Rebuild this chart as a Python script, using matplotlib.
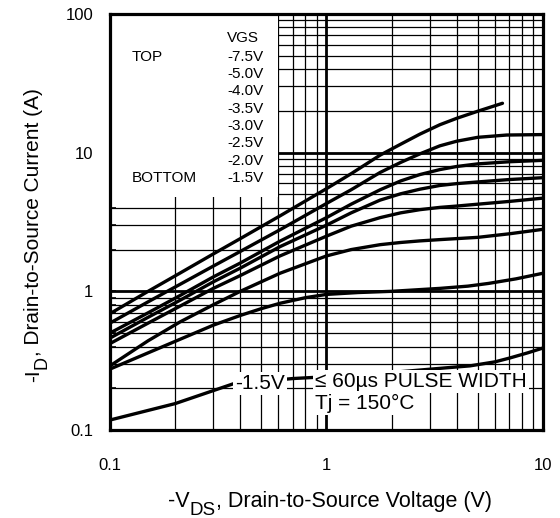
import numpy as np
import matplotlib
matplotlib.use("Agg")
import matplotlib.pyplot as plt
from matplotlib.patches import Rectangle
from matplotlib.ticker import NullFormatter

plt.rcParams["font.family"] = ["Liberation Sans", "DejaVu Sans"]

# ---------------------------------------------------------------------------
# Data (VDS in V, ID in A), one curve per VGS step
# ---------------------------------------------------------------------------
vgs_labels = ["-7.5V", "-5.0V", "-4.0V", "-3.5V", "-3.0V", "-2.5V", "-2.0V", "-1.5V"]

vds_m75 = [0.1, 0.15, 0.21, 0.3, 0.4, 0.61, 1.0, 1.3, 1.77, 2.2, 2.7, 3.34, 4.0, 5.0, 6.5]
id_m75 = [0.69, 1.0, 1.35, 1.86, 2.4, 3.5, 5.5, 7.05, 9.6, 11.5, 13.6, 15.9, 17.7, 19.9, 22.7]

vds_m50 = [0.1, 0.15, 0.21, 0.3, 0.4, 0.61, 1.0, 1.3, 1.77, 2.2, 2.7, 3.34, 4.0, 5.0, 6.8, 10]
id_m50 = [0.59, 0.84, 1.12, 1.52, 1.94, 2.78, 4.3, 5.4, 7.2, 8.5, 9.8, 11.2, 12.1, 12.9, 13.4, 13.5]

vds_m40 = [0.1, 0.15, 0.21, 0.3, 0.4, 0.61, 1.0, 1.3, 1.77, 2.2, 2.7, 3.34, 4.0, 5.0, 7.0, 10]
id_m40 = [0.50, 0.70, 0.93, 1.27, 1.6, 2.3, 3.4, 4.25, 5.4, 6.25, 6.95, 7.55, 7.95, 8.3, 8.6, 8.8]

vds_m35 = [0.1, 0.15, 0.21, 0.3, 0.4, 0.61, 1.0, 1.3, 1.77, 2.2, 2.7, 3.34, 4.0, 5.0, 7.0, 10]
id_m35 = [0.46, 0.65, 0.86, 1.17, 1.47, 2.1, 3.0, 3.68, 4.55, 5.05, 5.45, 5.8, 5.98, 6.15, 6.4, 6.6]

vds_m30 = [0.1, 0.15, 0.21, 0.3, 0.4, 0.61, 1.0, 1.3, 1.77, 2.2, 2.7, 3.34, 4.0, 5.0, 7.0, 10]
id_m30 = [0.42, 0.59, 0.78, 1.05, 1.3, 1.8, 2.5, 2.95, 3.4, 3.68, 3.88, 4.03, 4.12, 4.25, 4.45, 4.7]

vds_m25 = [0.1, 0.15, 0.21, 0.3, 0.4, 0.61, 1.0, 1.3, 1.77, 2.2, 2.7, 3.34, 5.0, 7.0, 10]
id_m25 = [0.29, 0.44, 0.6, 0.8, 1.0, 1.35, 1.8, 2.0, 2.17, 2.25, 2.31, 2.36, 2.45, 2.6, 2.8]

vds_m20 = [0.1, 0.15, 0.21, 0.3, 0.4, 0.5, 0.61, 0.8, 1.0, 1.4, 2.0, 3.34, 4.5, 5.6, 7.5, 10]
id_m20 = [0.275, 0.36, 0.45, 0.57, 0.67, 0.75, 0.82, 0.9, 0.95, 0.98, 1.0, 1.05, 1.09, 1.14, 1.23, 1.35]

vds_m15 = [0.1, 0.2, 0.37, 0.7, 0.9, 2.0, 3.5, 4.6, 6.0, 7.0, 8.5, 10]
id_m15 = [0.118, 0.155, 0.215, 0.235, 0.24, 0.26, 0.28, 0.29, 0.31, 0.33, 0.36, 0.39]

curves = [
    (vds_m75, id_m75), (vds_m50, id_m50), (vds_m40, id_m40), (vds_m35, id_m35),
    (vds_m30, id_m30), (vds_m25, id_m25), (vds_m20, id_m20), (vds_m15, id_m15),
]

# ---------------------------------------------------------------------------
# Figure
# ---------------------------------------------------------------------------
fig = plt.figure(figsize=(5.6, 5.18), dpi=100)
ax = fig.add_axes([0.1964, 0.1699, 0.7732, 0.8031])
ax.set_xscale("log")
ax.set_yscale("log")
ax.set_xlim(0.1, 10)
ax.set_ylim(0.1, 100)

# hand-drawn grid so the legend panel can cover it but not the ticks
for dec in [0.1, 1]:
    for m in range(2, 10):
        ax.axvline(dec * m, color="black", lw=0.9, zorder=1)
for dec in [0.1, 1, 10]:
    for m in range(2, 10):
        ax.axhline(dec * m, color="black", lw=0.9, zorder=1)
ax.axvline(1, color="black", lw=2.0, zorder=1.1)
ax.axhline(1, color="black", lw=2.0, zorder=1.1)
ax.axhline(10, color="black", lw=2.0, zorder=1.1)

# white legend panel in the upper left
ax.add_patch(Rectangle((0.1, 4.8), 0.595 - 0.1, 100 - 4.8, facecolor="white",
                       edgecolor="none", zorder=2))

for vds, i_d in curves:
    ax.plot(vds, i_d, color="black", lw=2.4, solid_capstyle="round",
            solid_joinstyle="round", zorder=3)

for s in ax.spines.values():
    s.set_linewidth(2.3)
    s.set_zorder(4)

ax.tick_params(axis="both", which="both", direction="in", top=False, right=False,
               labelsize=12)
ax.tick_params(axis="y", which="both", length=4, width=1.2, pad=12)
ax.tick_params(axis="x", which="both", length=0, pad=20)
ax.set_xticks([0.1, 1, 10])
ax.set_xticklabels(["0.1", "1", "10"])
ax.set_yticks([0.1, 1, 10, 100])
ax.set_yticklabels(["0.1", "1", "10", "100"])
ax.xaxis.set_minor_formatter(NullFormatter())
ax.yaxis.set_minor_formatter(NullFormatter())

# legend text
fs_leg = 11
ax.text(0.270, 0.943, "VGS", transform=ax.transAxes, fontsize=fs_leg, va="center", zorder=5)
ax.text(0.051, 0.897, "TOP", transform=ax.transAxes, fontsize=fs_leg, va="center", zorder=5)
ax.text(0.051, 0.606, "BOTTOM", transform=ax.transAxes, fontsize=fs_leg, va="center", zorder=5)
for k, lab in enumerate(vgs_labels):
    ax.text(0.270, 0.897 - 0.0416 * k, lab, transform=ax.transAxes, fontsize=fs_leg,
            va="center", zorder=5)

box = dict(facecolor="white", edgecolor="none", pad=1.5)
ax.text(0.378, 0.217, "-1.5V", fontsize=15, va="center", ha="left", bbox=box, zorder=5)
ax.text(0.885, 0.224, "\u2264 60\u00b5s PULSE WIDTH", fontsize=15, va="center",
        ha="left", bbox=box, zorder=5)
ax.text(0.885, 0.156, "Tj = 150\u00b0C", fontsize=15, va="center", ha="left",
        bbox=box, zorder=5)

# axis titles built from pieces so the subscripts stay near full size
kw = dict(annotation_clip=False, textcoords="offset points")
xa = ax.annotate("-V", xy=(168 / 560, 1 - 507 / 518), xycoords="figure fraction",
                 fontsize=15.5, ha="left", va="baseline", annotation_clip=False)
xb = ax.annotate("DS", xy=(1, 0), xycoords=xa, xytext=(0, -5), fontsize=13.5,
                 ha="left", va="bottom", **kw)
ax.annotate(", Drain-to-Source Voltage (V)", xy=(1, 0), xycoords=xb, xytext=(0, 5),
            fontsize=15.5, ha="left", va="bottom", **kw)

ya = ax.annotate("-I", xy=(24 / 560, 1 - 382 / 518), xycoords="figure fraction",
                 fontsize=15, rotation=90, ha="left", va="bottom", annotation_clip=False)
yb = ax.annotate("D", xy=(0, 1), xycoords=ya, xytext=(7, 0), fontsize=13,
                 rotation=90, ha="left", va="bottom", **kw)
ax.annotate(", Drain-to-Source Current (A)", xy=(0, 1), xycoords=yb, xytext=(-7, 0),
            fontsize=15, rotation=90, ha="left", va="bottom", **kw)

fig.savefig("out.png", dpi=100)
